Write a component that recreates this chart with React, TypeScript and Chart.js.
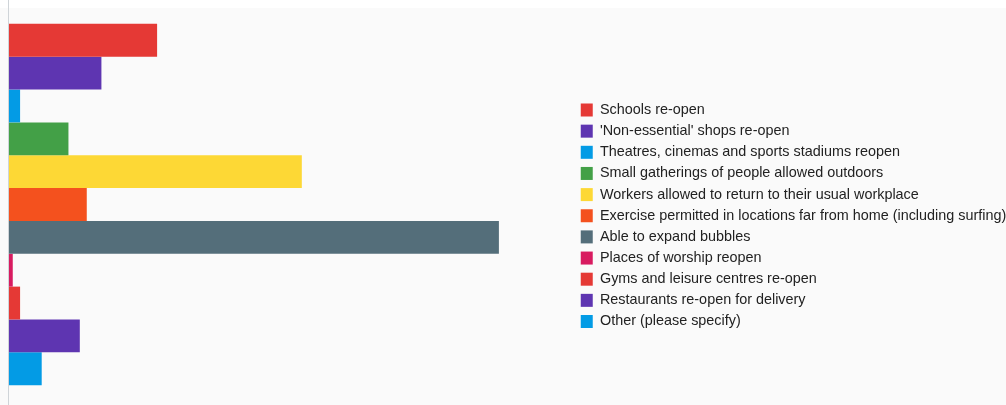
import React, { useEffect, useRef } from "react";
import { Chart, registerables } from "chart.js";

Chart.register(...registerables);

const categoryLabels: string[] = [""];

const seriesNames: string[] = [
  "Schools re-open",
  "'Non-essential' shops re-open",
  "Theatres, cinemas and sports stadiums reopen",
  "Small gatherings of people allowed outdoors",
  "Workers allowed to return to their usual workplace",
  "Exercise permitted in locations far from home (including surfing)",
  "Able to expand bubbles",
  "Places of worship reopen",
  "Gyms and leisure centres re-open",
  "Restaurants re-open for delivery",
  "Other (please specify)",
];

const seriesValues: number[] = [40.7, 25.5, 3.3, 16.5, 80.2, 21.5, 134, 1.3, 3.3, 19.6, 9.2];

const seriesColors: string[] = [
  "#e53935",
  "#5e35b1",
  "#039be5",
  "#43a047",
  "#fdd835",
  "#f4511e",
  "#546e7a",
  "#d81b60",
  "#e53935",
  "#5e35b1",
  "#039be5",
];

const axisMax = 154.5;

const backgroundPlugin = {
  id: "pageBackground",
  beforeDraw(chart: any) {
    const { ctx, width, height } = chart;
    ctx.save();
    ctx.fillStyle = "#ffffff";
    ctx.fillRect(0, 0, width, height);
    ctx.fillStyle = "#fafafa";
    ctx.fillRect(0, 8, width, height - 8);
    ctx.restore();
  },
};

export default function App() {
  const canvasRef = useRef<HTMLCanvasElement | null>(null);

  useEffect(() => {
    if (!canvasRef.current) return;
    const chart = new Chart(canvasRef.current, {
      type: "bar",
      data: {
        labels: categoryLabels,
        datasets: seriesNames.map((name, i) => ({
          label: name,
          data: [seriesValues[i]],
          backgroundColor: seriesColors[i],
          borderWidth: 0,
          categoryPercentage: 0.8834,
          barPercentage: 1,
        })),
      },
      options: {
        indexAxis: "y",
        animation: false,
        responsive: true,
        maintainAspectRatio: false,
        layout: { padding: { left: 8, top: 0, right: 0, bottom: 0 } },
        scales: {
          x: {
            display: false,
            min: 0,
            max: axisMax,
          },
          y: {
            display: true,
            ticks: { display: false },
            grid: { display: false, drawTicks: false },
            border: { display: true, color: "#cfd4d8", width: 1, z: 1 },
          },
        },
        plugins: {
          tooltip: { enabled: false },
          legend: {
            display: true,
            position: "right",
            align: "center",
            maxWidth: 432,
            title: { display: true, text: "", font: { size: 22.5, lineHeight: 1 } },
            labels: {
              boxWidth: 12,
              boxHeight: 13,
              padding: 6.75,
              color: "#222222",
              font: { family: "'Liberation Sans', Arial, sans-serif", size: 14.4 },
            },
          },
        },
      },
      plugins: [backgroundPlugin],
    });
    return () => chart.destroy();
  }, []);

  return (
    <div style={{ position: "fixed", left: 0, top: 0, width: "1006px", height: "409px" }}>
      <canvas ref={canvasRef} />
    </div>
  );
}
